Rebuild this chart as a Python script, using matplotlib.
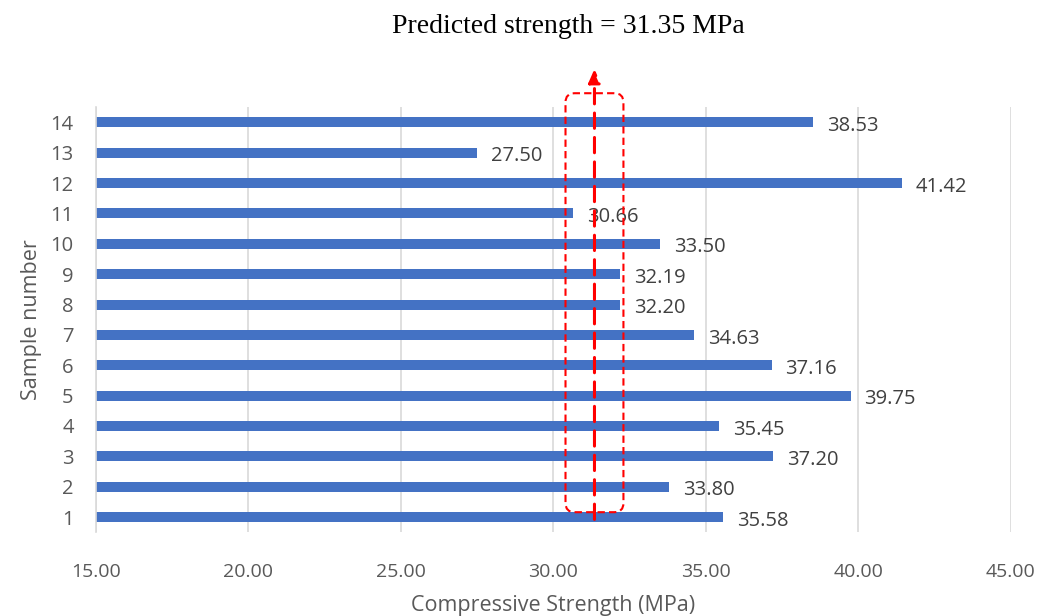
import matplotlib.pyplot as plt
from matplotlib.patches import FancyBboxPatch

# Compressive strength of each sample (MPa)
samples = [1, 2, 3, 4, 5, 6, 7, 8, 9, 10, 11, 12, 13, 14]
strength = [35.58, 33.80, 37.20, 35.45, 39.75, 37.16, 34.63, 32.20, 32.19, 33.50, 30.66, 41.42, 27.50, 38.53]
predicted = 31.35
x_ticks = [15, 20, 25, 30, 35, 40, 45]

bar_color = "#4472C4"
text_color = "#595959"
sans = ["Open Sans", "DejaVu Sans"]

fig = plt.figure(figsize=(10.43, 6.16), dpi=100)
ax = fig.add_axes([0.092, 0.136, 0.877, 0.69])

x0 = x_ticks[0]
ax.barh(samples, [s - x0 for s in strength], left=x0, height=0.33, color=bar_color, zorder=2)

for y, s in zip(samples, strength):
    ax.text(s + 0.45, y - 0.12, f"{s:.2f}", va="center", ha="left",
            fontsize=14.5, color="#404040", family=sans)

ax.set_xlim(x_ticks[0], x_ticks[-1])
ax.set_ylim(0.5, 14.5)
ax.set_xticks(x_ticks)
ax.set_xticklabels([f"{t:.2f}" for t in x_ticks], fontsize=14, color=text_color, family=sans)
ax.set_yticks(samples)
ax.set_yticklabels([str(s) for s in samples], fontsize=14.5, color=text_color, family=sans)
ax.tick_params(axis="y", length=0, pad=16)
ax.tick_params(axis="x", length=0, pad=22)

ax.grid(axis="x", color="#D9D9D9", linewidth=1.2, zorder=0)
for side in ["top", "right", "bottom"]:
    ax.spines[side].set_visible(False)
ax.spines["left"].set_color("#D9D9D9")
ax.spines["left"].set_linewidth(1.2)

ax.set_xlabel("Compressive Strength (MPa)", fontsize=15.5, color=text_color, family=sans, labelpad=10)
ax.set_ylabel("Sample number", fontsize=15.5, color=text_color, family=sans, labelpad=6)

# Dashed box around the predicted value and arrow pointing to the label
half_w = 0.95
box = FancyBboxPatch((predicted - half_w, 1.16), 2 * half_w, 14.96 - 1.16,
                     boxstyle="round,pad=0,rounding_size=0.3",
                     fill=False, edgecolor="red", linestyle=(0, (3.5, 2)),
                     linewidth=1.5, clip_on=False, zorder=4)
ax.add_patch(box)
ax.annotate("", xy=(predicted, 15.85), xytext=(predicted, 0.83),
            arrowprops=dict(arrowstyle="-|>,head_width=0.35,head_length=0.8",
                            color="red", linestyle=(0, (5, 3)), linewidth=2.2),
            annotation_clip=False, zorder=5)

fig.text(0.545, 0.957, f"Predicted strength = {predicted:.2f} MPa",
         ha="center", va="center", fontsize=20, color="black", family="Liberation Serif")

fig.savefig("out.png", dpi=100)
